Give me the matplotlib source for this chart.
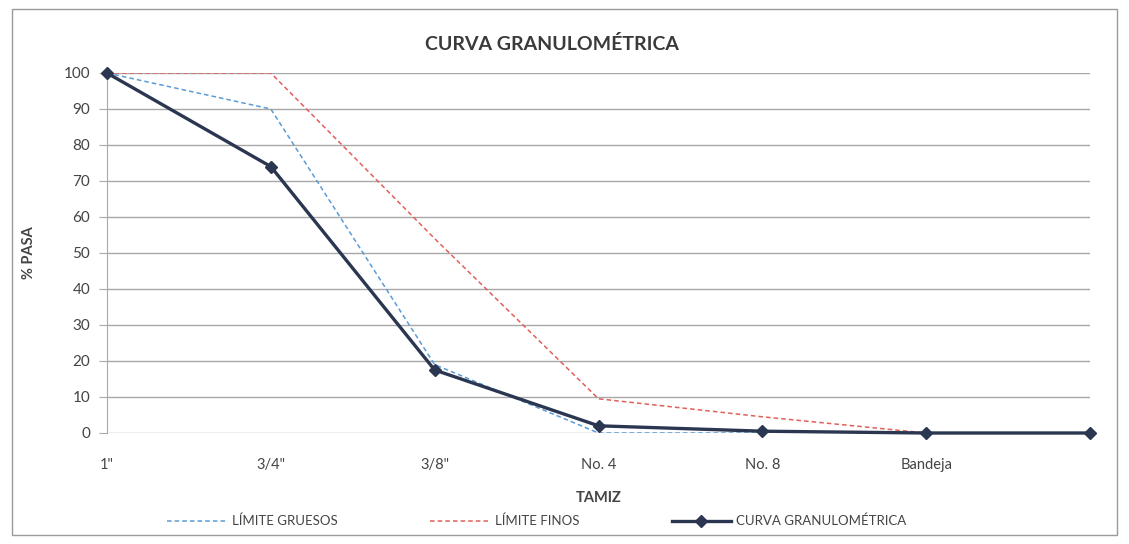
import numpy as np
import matplotlib.pyplot as plt
from matplotlib.patches import Rectangle
from matplotlib.lines import Line2D

plt.rcParams['font.family'] = ['Lato', 'DejaVu Sans']

tamices = ['1"', '3/4"', '3/8"', 'No. 4', 'No. 8', 'Bandeja', '']
limite_gruesos = [100, 90, 19, 0, 0, 0, np.nan]
limite_finos = [100, 100, 54, 9.5, 4.5, 0, np.nan]
curva = [100, 74, 17.5, 2, 0.5, 0, 0]

fig = plt.figure(figsize=(11.29, 5.44), dpi=100)

# marco del grafico
fig.patches.append(Rectangle((12 / 1129, 9 / 544), 1105 / 1129, 526 / 544,
                             transform=fig.transFigure, fill=False,
                             edgecolor='#9a9a9a', linewidth=1.0))

ax = fig.add_axes([107 / 1129, 1 - 433 / 544, 983 / 1129, 360 / 544])
x = np.arange(len(tamices))

ax.plot(x, limite_gruesos, color='#5b9bd5', linestyle=(0, (3, 2)), linewidth=1.1,
        label='LÍMITE GRUESOS', zorder=3)
ax.plot(x, limite_finos, color='#e0605a', linestyle=(0, (3, 2)), linewidth=1.1,
        label='LÍMITE FINOS', zorder=3)
ax.plot(x, curva, color='#2b3650', linewidth=2.4, marker='D', markersize=6,
        label='CURVA GRANULOMÉTRICA', zorder=4, clip_on=False)

ax.set_xlim(0, len(tamices) - 1)
ax.set_ylim(0, 100)
ax.set_yticks(np.arange(0, 101, 10))
ax.set_xticks(x)
ax.set_xticklabels(tamices)
ax.yaxis.grid(True, color='#a8a8a8', linewidth=1.0)
ax.set_axisbelow(True)
for s in ['top', 'right', 'bottom']:
    ax.spines[s].set_visible(False)
ax.spines['left'].set_color('#a8a8a8')
ax.tick_params(axis='y', length=6, color='#a8a8a8', labelsize=11, labelcolor='#444444', pad=6)
ax.tick_params(axis='x', length=0, labelsize=10.5, labelcolor='#444444', pad=18)

ax.set_xlabel('TAMIZ', fontsize=10.5, fontweight='bold', color='#444444', labelpad=14)
ax.set_ylabel('% PASA', fontsize=10.5, fontweight='bold', color='#444444', labelpad=20)
fig.text(552 / 1129, 1 - 44 / 544, 'CURVA GRANULOMÉTRICA', ha='center', va='center',
         fontsize=14, fontweight='bold', color='#3a3a3a')

handles = [Line2D([], [], color='#5b9bd5', linestyle=(0, (3, 2)), linewidth=1.1),
           Line2D([], [], color='#e0605a', linestyle=(0, (3, 2)), linewidth=1.1),
           Line2D([], [], color='#2b3650', linewidth=2.4, marker='D', markersize=6)]
labels = ['LÍMITE GRUESOS', 'LÍMITE FINOS', 'CURVA GRANULOMÉTRICA']
fig.legend(handles, labels, loc='center', bbox_to_anchor=(537 / 1129, 1 - 521 / 544),
           ncol=3, frameon=False, fontsize=9.5, handlelength=4.5, handletextpad=0.4,
           columnspacing=7, labelcolor='#444444')

fig.savefig('out.png', dpi=100)
